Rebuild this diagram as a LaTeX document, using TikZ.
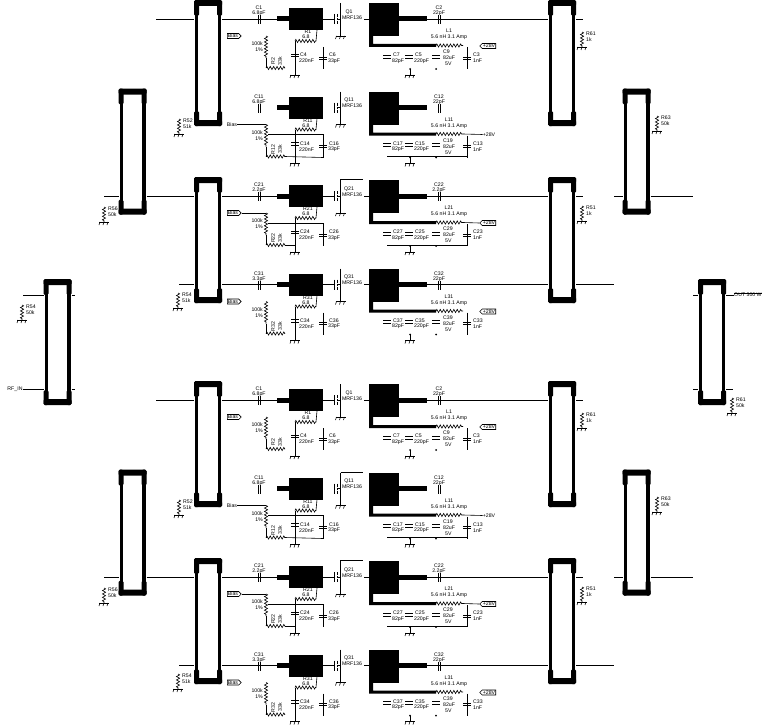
\documentclass[tikz,border=0pt]{standalone}
\usepackage{fontspec}
\setmainfont{Liberation Sans}
\usetikzlibrary{calc}
\usetikzlibrary{shapes.symbols}
\usetikzlibrary{decorations.pathmorphing}

%Styles
\tikzset{
	wire/.style={line width=.9pt},
	thin wire/.style={line width=.6pt},
	solid block/.style={fill=black,inner sep=0pt,outer sep=0pt},
	coupler frame/.style={draw,line width=3.4pt,inner sep=0pt,outer sep=0pt,minimum width=22.6pt,minimum height=120pt},
	zig/.style={line width=.6pt,decorate,decoration={zigzag,segment length=3.4pt,amplitude=1.6pt}},
	lab/.style={font=\fontsize{5.2}{6}\selectfont,inner sep=0pt},
	biastag/.style={lab,draw,line width=.6pt,signal,signal to=east,inner sep=.6pt,minimum height=5pt},
	supplytag/.style={lab,draw,line width=.6pt,signal,signal to=west,inner sep=.6pt,minimum height=5pt}
}

%ground at a point
\newcommand{\gndsym}[1]{
	\draw[thin wire] ($(#1)+(-5,0)$) -- ($(#1)+(5,0)$);
	\draw[thin wire] ($(#1)+(-4,0)$) -- ++(-1,3) ($(#1)+(0,0)$) -- ++(-1,3) ($(#1)+(4,0)$) -- ++(-1,3);
}

%hybrid: name, left, top
\newcommand{\coupler}[3]{
	\begin{scope}[shift={(#2,#3)}]
		\node[coupler frame] (#1) at (14,63) {};
		\fill[rounded corners=1.5pt] (0,0) rectangle (28,6);
		\fill[rounded corners=1.5pt] (0,0) rectangle (5,16);
		\fill[rounded corners=1.5pt] (23,0) rectangle (28,16);
		\fill[rounded corners=1.5pt] (0,120) rectangle (28,126);
		\fill[rounded corners=1.5pt] (0,111) rectangle (5,126);
		\fill[rounded corners=1.5pt] (23,111) rectangle (28,126);
		\coordinate (#1-nw) at (0,19);
		\coordinate (#1-ne) at (28,19);
		\coordinate (#1-sw) at (0,107.5);
		\coordinate (#1-se) at (28,107.5);
	\end{scope}
}

%terminating resistor: name, x, y, two labels
\newcommand{\termres}[5]{
	\begin{scope}[shift={(#2,#3)}]
		\coordinate (#1a) at (0,0);
		\coordinate (#1b) at (0,15);
		\draw[zig] (#1a) -- (#1b);
		\gndsym{#1b}
		\node[lab,anchor=west] (#1v) at (4,2) {#4};
		\node[lab,anchor=west] (#1w) at (4,8) {#5};
	\end{scope}
}

%amplifier: name, row line, kind (1 open, 2 no through line, 3 joined), number prefix, C in, C out
\newcommand{\ampcell}[6]{
	\begin{scope}[shift={(0,#2)}]
		%blocks of the strip lines
		\node[solid block,minimum width=34pt,minimum height=22pt] (#1ma) at (306,0) {};
		\node[solid block,minimum width=12pt,minimum height=5pt] (#1mb) at (283,0) {};
		\node[solid block,minimum width=30pt,minimum height=33pt] (#1mc) at (384,.5) {};
		\node[solid block,minimum width=28pt,minimum height=5pt] (#1mt) at (413,0) {};
		\fill (369,17) rectangle (373,28) (369,25) rectangle (436,28);
		%input and output capacitors
		\node[lab] (#1c) at (259,-11) {C#41};
		\node[lab] (#1d) at (259,-5.5) {#5};
		\draw[thin wire] (258,-4) -- (258,5) (260.4,-4) -- (260.4,5);
		\node[lab] (#1e) at (439,-11) {C#42};
		\node[lab] (#1f) at (439,-5.5) {#6};
		\draw[thin wire] (438,-4) -- (438,5) (440.4,-4) -- (440.4,5);
		%transistor
		\coordinate (#1dt) at (340.5,-16);
		\coordinate (#1db) at (340.5,17);
		\coordinate (#1gt) at (334,0);
		\draw[wire] (#1dt) -- (#1db);
		\gndsym{#1db}
		\draw[wire] (334,-5) -- (334,5) (337,-5) -- (337,-2) (337,-1) -- (337,1) (337,2) -- (337,5) (337,0) -- (340.5,0);
		\node[lab] (#1q) at (349,-7) {Q#41};
		\node[lab] (#1p) at (352,-1.5) {MRF136};
		\ifnum#3=2\else
			\draw[wire] (#1ma.east) -- (#1gt);
			\coordinate (#1do) at (364,0);
			\draw[wire] (#1do) -- (#1mc.west |- #1do);
		\fi
		%drain feed
		\coordinate (#1la) at (436,26.5);
		\coordinate (#1lb) at (463,26.5);
		\draw[zig] (#1la) -- (#1lb);
		\node[lab] (#1l) at (449,12) {L#41};
		\node[lab] (#1k) at (449,18.5) {5.6 nH 3.1 Amp};
		\coordinate (#1sa) at (467,28);
		\coordinate (#1sb) at (467,50);
		\draw[thin wire] (#1sa) -- (#1sb);
		\draw[thin wire] (463,38) -- (471,38) (463,40) -- (471,40);
		\node[lab,anchor=west] (#1g) at (473,36) {C#43};
		\node[lab,anchor=west] (#1h) at (473,42) {1nF};
		\ifnum#3=2
			\node[lab] (#1v) at (489,27) {+28V};
		\else
			\node[supplytag] (#1v) at (489,27) {+28V};
		\fi
		\ifnum#3=1\else
			\draw[thin wire] (#1lb) -- (#1v.west);
		\fi
		%decoupling row
		\draw[thin wire] (383,36) -- (391,36) (383,39) -- (391,39);
		\node[lab,anchor=west] (#1n) at (393,36) {C#47};
		\node[lab,anchor=west] (#1o) at (392,42) {82pF};
		\draw[thin wire] (405,36) -- (413,36) (405,39) -- (413,39);
		\node[lab,anchor=west] (#1r) at (415,36) {C#45};
		\node[lab,anchor=west] (#1s) at (414,42) {220pF};
		\draw[thin wire] (432,36) -- (440,36) (432,39) -- (440,39);
		\node[lab,anchor=west] (#1t) at (443,33) {C#49};
		\node[lab,anchor=west] (#1u) at (443,39) {82uF};
		\node[lab,anchor=west] (#1w) at (445,45) {5V};
		\fill (410,50) circle (1pt) (436,50) circle (1pt);
		\ifnum#3=1\else
			\coordinate (#1ba) at (387,49);
			\draw[thin wire] (#1ba) -- (#1sb |- #1ba);
		\fi
		\coordinate (#1gr) at (410,56);
		\draw[thin wire] (410,50) -- (#1gr);
		\gndsym{#1gr}
		%bias side
		\coordinate (#1ra) at (295,22);
		\coordinate (#1rb) at (316,22);
		\coordinate (#1rc) at (317,11);
		\draw[zig] (#1ra) -- (#1rb);
		\draw[thin wire] (#1rb) -- (#1rc);
		\node[lab] (#1i) at (308,13) {R#41};
		\node[lab] (#1j) at (306,18) {6.8};
		\coordinate (#1ga) at (295,56);
		\draw[thin wire] (#1ra) -- (#1ga);
		\gndsym{#1ga}
		\draw[thin wire] (291,35) -- (299,35) (291,37.4) -- (299,37.4);
		\node[lab,anchor=west] (#1x) at (300,36) {C#44};
		\node[lab,anchor=west] (#1y) at (299,42) {220nF};
		\coordinate (#1ca) at (323,28);
		\coordinate (#1cb) at (323,50);
		\draw[thin wire] (#1ca) -- (#1cb);
		\draw[thin wire] (319,38) -- (327,38) (319,40) -- (327,40);
		\node[lab,anchor=west] (#1z) at (329,36) {C#46};
		\node[lab,anchor=west] (#1aa) at (328,42) {33pF};
		\coordinate (#1pa) at (266,17);
		\coordinate (#1pb) at (266,39);
		\coordinate (#1pc) at (266,49);
		\draw[zig] (#1pa) -- (#1pb);
		\draw[thin wire] (#1pb) -- (#1pc);
		\node[lab,anchor=east] (#1ab) at (263,25) {100k};
		\node[lab,anchor=east] (#1ac) at (263,31) {1\%};
		\coordinate (#1za) at (285,49);
		\draw[zig] (#1pc) -- (#1za);
		\node[lab,rotate=90] (#1ad) at (273,42) {R#42};
		\node[lab,rotate=90] (#1ae) at (280,42) {33k};
		\ifnum#3=2
			\node[lab] (#1b) at (232,17) {Bias};
		\else
			\node[biastag] (#1b) at (233,17) {Bias};
		\fi
		\ifnum#3=1\else
			\draw[thin wire] (#1b.east) -- (#1pa);
			\coordinate (#1ne) at (268,27);
			\draw[thin wire] (#1ne) -- (#1ca |- #1ne) -- (#1ca);
		\fi
		\ifnum#3=2
			\draw[thin wire] (#1za) -- (#1cb);
		\fi
		\ifnum#3=3
			\draw[thin wire] (#1za) -- (#1ga |- #1za);
		\fi
	\end{scope}
}

\begin{document}
\begin{tikzpicture}[x=1pt,y=-1pt,line cap=butt]
	\useasboundingbox (0,0) rectangle (768,725);

	%the two groups of four amplifiers
	\foreach \g/\dy in {u/0,d/381}{
		\coupler{\g a}{194}{\dy}
		\coupler{\g c}{194}{\dy+177}
		\coupler{\g r}{548}{\dy}
		\coupler{\g s}{548}{\dy+177}
		\coupler{\g m}{118.5}{\dy+88.5}
		\coupler{\g n}{622.5}{\dy+88.5}

		\ampcell{\g 1}{\dy+19}{1}{}{6.8pF}{22pF}
		\ampcell{\g 2}{\dy+107.5}{2}{1}{6.8pF}{22pF}
		\ampcell{\g 3}{\dy+196}{3}{2}{2.2pF}{2.2pF}
		\ampcell{\g 4}{\dy+284.5}{1}{3}{3.3pF}{22pF}

		%lines through the hybrids
		\coordinate (\g w1) at (156,\dy+19);
		\coordinate (\g w2) at (179,\dy+284.5);
		\coordinate (\g w3) at (104,\dy+196);
		\coordinate (\g w4) at (693,\dy+196);
		\coordinate (\g w5) at (583,\dy+19);
		\coordinate (\g w6) at (583,\dy+196);
		\coordinate (\g w7) at (614,\dy+196);
		\coordinate (\g w8) at (614,\dy+284.5);
		\draw[wire] (\g w1) -- (\g a-nw);
		\draw[wire] (\g a-ne) -- (\g 1mb.west);
		\draw[wire] (\g w3) -- (\g m-sw);
		\draw[wire] (\g m-se) -- (\g c-nw);
		\draw[wire] (\g c-ne) -- (\g 3mb.west);
		\draw[wire] (\g w2) -- (\g c-sw);
		\draw[wire] (\g c-se) -- (\g 4mb.west);
		\draw[wire] (\g 1mt.east) -- (\g r-nw);
		\draw[wire] (\g r-ne) -- (\g w5);
		\draw[wire] (\g 3mt.east) -- (\g s-nw);
		\draw[wire] (\g s-ne) -- (\g w6);
		\draw[wire] (\g 4mt.east) -- (\g s-sw);
		\draw[wire] (\g s-se) -- (\g w8);
		\draw[wire] (\g w7) -- (\g n-sw);
		\draw[wire] (\g n-se) -- (\g w4);

		%join of drain and output in the third row
		\coordinate (\g j) at (363,\dy+179);
		\draw[wire] (\g 3dt) -- (\g 3dt |- \g j) -- (\g j);

		%terminations
		\termres{\g ra}{179}{\dy+119}{R52}{51k}
		\termres{\g rc}{178}{\dy+293}{R54}{51k}
		\termres{\g rm}{104}{\dy+207}{R56}{50k}
		\termres{\g rr}{582}{\dy+32}{R61}{1k}
		\termres{\g rs}{582}{\dy+206}{R51}{1k}
		\termres{\g rn}{657}{\dy+116}{R63}{50k}
	}
	\coordinate (dk) at (363,472.5);
	\draw[wire] (d2dt) -- (d2dt |- dk) -- (dk);

	%outer hybrids with the input and output
	\coupler{ll}{43.5}{279}
	\coupler{rr}{698}{279}
	\coordinate (lla) at (43.5,295);
	\coordinate (llb) at (43.5,389);
	\coordinate (llc) at (71.5,295);
	\coordinate (lld) at (71.5,389);
	\coordinate (rra) at (698,295);
	\coordinate (rrb) at (698,389);
	\coordinate (rrc) at (726,295);
	\coordinate (rrd) at (726,389);
	\coordinate (lle) at (23,295);
	\coordinate (llf) at (75,295);
	\coordinate (llg) at (75,389);
	\coordinate (rre) at (693,295);
	\coordinate (rrf) at (693,389);
	\coordinate (rrg) at (733,389);
	\node[lab] (rfin) at (15,389) {RF\_IN};
	\node[lab,anchor=west] (rfout) at (734,295) {OUT 300 W};
	\draw[wire] (lle) -- (lla);
	\draw[wire] (rfin.east) -- (llb);
	\draw[wire] (llc) -- (llf);
	\draw[wire] (lld) -- (llg);
	\draw[wire] (rre) -- (rra);
	\draw[wire] (rrf) -- (rrb);
	\draw[wire] (rrc) -- (rfout.west);
	\draw[wire] (rrd) -- (rrg);
	\draw[thin wire] (rfout.north west) -- (rfout.north east);
	\termres{rl}{22}{305}{R54}{50k}
	\termres{rk}{732}{398}{R61}{50k}
\end{tikzpicture}
\end{document}
